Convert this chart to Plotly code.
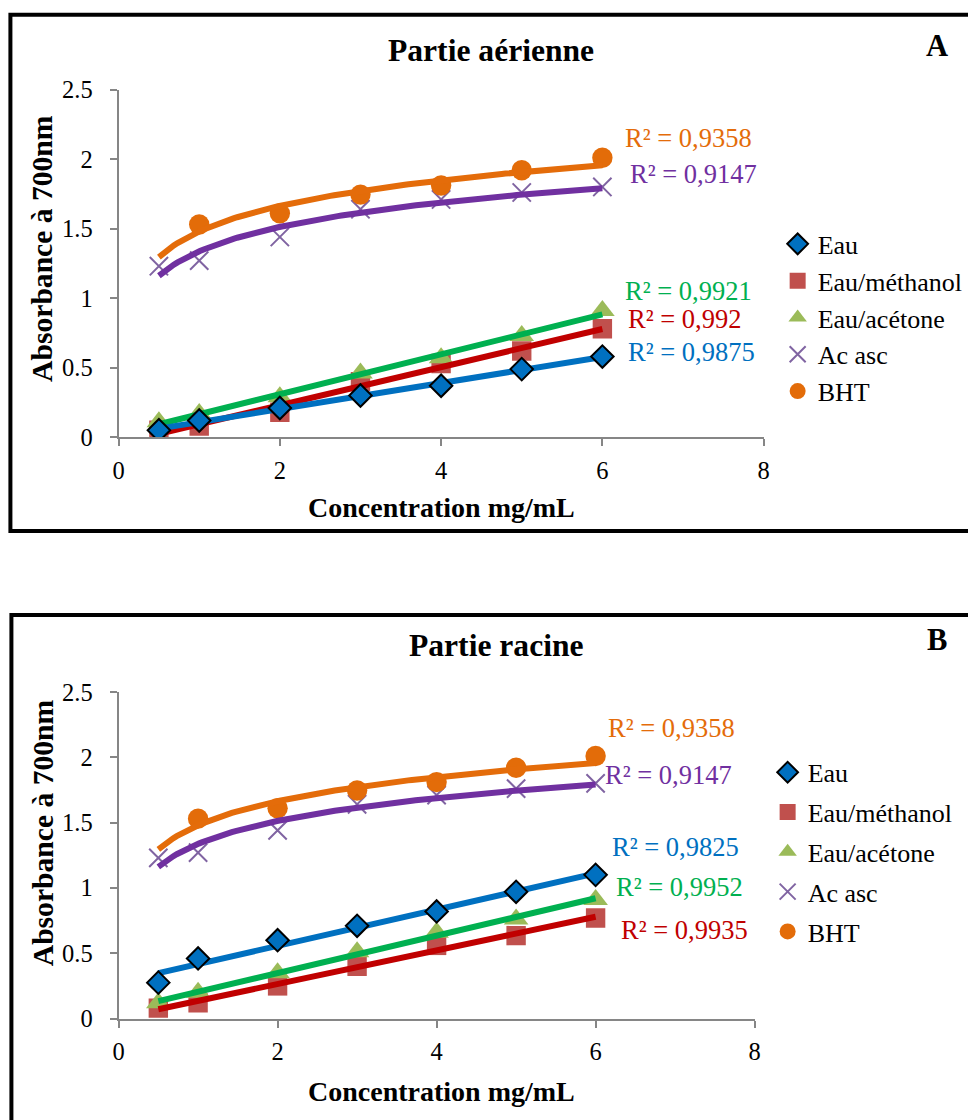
import numpy as np
import plotly.graph_objects as go

# ---------------- data ----------------
conc = [0.5, 1, 2, 3, 4, 5, 6]
conc_bht = [1, 2, 3, 4, 5, 6]

# Panel A (Partie aérienne)
a_eau = [0.05, 0.12, 0.21, 0.30, 0.37, 0.49, 0.58]
a_meth = [0.05, 0.08, 0.18, 0.40, 0.53, 0.62, 0.78]
a_acet = [0.11, 0.17, 0.29, 0.46, 0.57, 0.73, 0.91]
a_ac_asc = [1.23, 1.27, 1.44, 1.64, 1.71, 1.76, 1.80]
a_bht = [1.53, 1.61, 1.745, 1.81, 1.92, 2.01]

# Panel B (Partie racine)
b_eau = [0.275, 0.46, 0.60, 0.71, 0.82, 0.97, 1.10]
b_meth = [0.08, 0.12, 0.25, 0.40, 0.56, 0.635, 0.77]
b_acet = [0.12, 0.20, 0.35, 0.51, 0.66, 0.76, 0.91]
b_ac_asc = [1.23, 1.27, 1.44, 1.64, 1.71, 1.76, 1.80]
b_bht = [1.53, 1.61, 1.745, 1.81, 1.92, 2.01]

r2_a = {"eau": "0,9875", "meth": "0,992", "acet": "0,9921", "asc": "0,9147", "bht": "0,9358"}
r2_b = {"eau": "0,9825", "meth": "0,9935", "acet": "0,9952", "asc": "0,9147", "bht": "0,9358"}

names = ["Eau", "Eau/méthanol", "Eau/acétone", "Ac asc", "BHT"]
xticks = [0, 2, 4, 6, 8]
yticks = [0, 0.5, 1, 1.5, 2, 2.5]
yticklabels = ["0", "0.5", "1", "1.5", "2", "2.5"]

# ---------------- styles ----------------
W, H = 968, 1120
FONT = "Liberation Serif, Times New Roman, serif"
C_EAU, C_EAU_L = "#0070C0", "#0070C0"
C_METH, C_METH_L = "#C0504D", "#C00000"
C_ACET, C_ACET_L = "#9BBB59", "#00B050"
C_ASC, C_ASC_L = "#8064A2", "#7030A0"
C_BHT, C_BHT_L = "#E36C09", "#E46C0A"

# the rendered page is shown slightly reduced; compensate positions / sizes
SXA, SXB = 0.986, 5.6
SYA, SYB = 0.977, 12.3
S = 1 / 0.981


def px(t):
    return ((t - SXB) / SXA) / W


def py(t):
    return 1 - ((t - SYB) / SYA) / H


def fs(v):
    return round(v * S, 1)


fig = go.Figure()


def lin_fit(x, y):
    k, b = np.polyfit(np.array(x, float), np.array(y, float), 1)
    xs = np.array([0.5, 6.0])
    return xs, k * xs + b


def log_fit(x, y):
    k, b = np.polyfit(np.log(np.array(x, float)), np.array(y, float), 1)
    xs = np.linspace(0.5, 6.0, 120)
    return xs, k * np.log(xs) + b


def panel(xa, ya, leg, eau, meth, acet, asc, bht):
    fig.add_trace(go.Scatter(x=conc, y=meth, mode="markers", name=names[1], xaxis=xa, yaxis=ya,
                             legend=leg, legendrank=2, legendgroup=leg + "2",
                             marker=dict(symbol="square", size=fs(19), color=C_METH)))
    fig.add_trace(go.Scatter(x=conc, y=acet, mode="markers", name=names[2], xaxis=xa, yaxis=ya,
                             legend=leg, legendrank=3, legendgroup=leg + "3",
                             marker=dict(symbol="triangle-up", size=fs(21), color=C_ACET)))
    fig.add_trace(go.Scatter(x=conc, y=asc, mode="markers", name=names[3], xaxis=xa, yaxis=ya,
                             legend=leg, legendrank=4, legendgroup=leg + "4",
                             marker=dict(symbol="x-thin-open", size=fs(18), color=C_ASC,
                                         line=dict(width=2, color=C_ASC))))
    fig.add_trace(go.Scatter(x=conc_bht, y=bht, mode="markers", name=names[4], xaxis=xa, yaxis=ya,
                             legend=leg, legendrank=5, legendgroup=leg + "5",
                             marker=dict(symbol="circle", size=fs(20), color=C_BHT)))
    for (xs, ys), col in [(lin_fit(conc, meth), C_METH_L), (lin_fit(conc, acet), C_ACET_L),
                          (log_fit(conc, asc), C_ASC_L), (log_fit(conc_bht, bht), C_BHT_L),
                          (lin_fit(conc, eau), C_EAU_L)]:
        fig.add_trace(go.Scatter(x=xs, y=ys, mode="lines", showlegend=False, xaxis=xa, yaxis=ya,
                                 line=dict(color=col, width=6), hoverinfo="skip"))
    fig.add_trace(go.Scatter(x=conc, y=eau, mode="markers", name=names[0], xaxis=xa, yaxis=ya,
                             legend=leg, legendrank=1, legendgroup=leg + "1",
                             marker=dict(symbol="diamond", size=fs(17), color=C_EAU,
                                         line=dict(width=2, color="black"))))


panel("x", "y", "legend", a_eau, a_meth, a_acet, a_ac_asc, a_bht)
panel("x2", "y2", "legend2", b_eau, b_meth, b_acet, b_ac_asc, b_bht)

axis_common = dict(showgrid=False, zeroline=False, showline=True, linecolor="#868686", linewidth=2,
                   ticks="outside", ticklen=7, tickcolor="#868686", tickwidth=2,
                   tickfont=dict(family=FONT, size=fs(24), color="black"))

fig.update_layout(
    width=W, height=H, margin=dict(l=0, r=0, t=0, b=0),
    paper_bgcolor="white", plot_bgcolor="white",
    xaxis=dict(domain=[px(118), px(762)], range=[0, 8], tickvals=xticks, anchor="y",
               ticklabelstandoff=3, **axis_common),
    yaxis=dict(domain=[py(437), py(89)], range=[0, 2.5], tickvals=yticks, ticktext=yticklabels,
               anchor="x", ticklabelstandoff=12, **axis_common),
    xaxis2=dict(domain=[px(118), px(753)], range=[0, 8], tickvals=xticks, anchor="y2",
                ticklabelstandoff=3, **axis_common),
    yaxis2=dict(domain=[py(1019), py(692)], range=[0, 2.5], tickvals=yticks, ticktext=yticklabels,
                anchor="x2", ticklabelstandoff=12, **axis_common),
    legend=dict(x=px(776), y=py(220), xanchor="left", yanchor="top", bgcolor="rgba(0,0,0,0)",
                font=dict(family=FONT, size=26, color="black"), tracegroupgap=0,
                itemsizing="trace"),
    legend2=dict(x=px(766), y=py(749), xanchor="left", yanchor="top", bgcolor="rgba(0,0,0,0)",
                 font=dict(family=FONT, size=26, color="black"), tracegroupgap=3,
                 itemsizing="trace"),
    showlegend=True,
)

ann = []


def txt(x, y, s, size, color="black", bold=False, angle=0):
    if bold:
        s = "<b>" + s + "</b>"
    ann.append(dict(x=px(x), y=py(y), xref="paper", yref="paper", text=s, showarrow=False,
                    xanchor="center", yanchor="middle", textangle=angle,
                    font=dict(family=FONT, size=fs(size), color=color)))


# Panel A texts
txt(490, 50, "Partie aérienne", 31, bold=True)
txt(935, 45, "A", 30, bold=True)
txt(42, 248, "Absorbance à 700nm", 29, bold=True, angle=-90)
txt(440, 507, "Concentration mg/mL", 27.5, bold=True)
txt(687, 137, "R² = " + r2_a["bht"], 26, C_BHT_L)
txt(692, 173, "R² = " + r2_a["asc"], 26, C_ASC_L)
txt(687, 291, "R² = " + r2_a["acet"], 26, C_ACET_L)
txt(683, 319, "R² = " + r2_a["meth"], 26, C_METH_L)
txt(690, 352, "R² = " + r2_a["eau"], 26, C_EAU_L)

# Panel B texts
txt(495, 646, "Partie racine", 31, bold=True)
txt(935, 640, "B", 30, bold=True)
txt(42, 833, "Absorbance à 700nm", 29, bold=True, angle=-90)
txt(440, 1092, "Concentration mg/mL", 27.5, bold=True)
txt(670, 728, "R² = " + r2_b["bht"], 26, C_BHT_L)
txt(667, 775, "R² = " + r2_b["asc"], 26, C_ASC_L)
txt(674, 847, "R² = " + r2_b["eau"], 26, C_EAU_L)
txt(678, 887, "R² = " + r2_b["acet"], 26, C_ACET_L)
txt(683, 930, "R² = " + r2_b["meth"], 26, C_METH_L)

fig.update_layout(annotations=ann)

fig.add_shape(type="rect", xref="paper", yref="paper", x0=px(10), x1=px(1000), y0=py(14), y1=py(531),
              line=dict(color="black", width=4), layer="above")
fig.add_shape(type="rect", xref="paper", yref="paper", x0=px(11), x1=px(1000), y0=py(615), y1=py(1140),
              line=dict(color="black", width=4), layer="above")

fig.write_html(
    "out.html",
    config={"displayModeBar": False},
    post_script="document.body.style.margin='0';document.documentElement.style.overflow='hidden';document.body.style.overflow='hidden';",
)
